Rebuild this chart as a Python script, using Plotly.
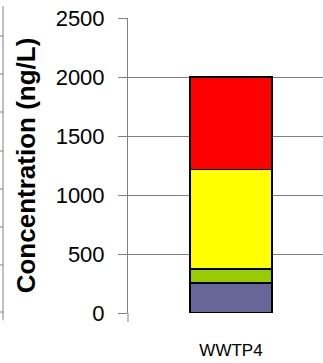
import plotly.graph_objects as go

# Stacked concentrations at one treatment plant
sites = ["WWTP4"]
series_names = ["Group A", "Group B", "Group C", "Group D"]
series_values = [[255], [120], [840], [785]]
series_colors = ["#666699", "#99CC00", "#FFFF00", "#FF0000"]

y_ticks = [0, 500, 1000, 1500, 2000, 2500]

fig = go.Figure()
for name, vals, col in zip(series_names, series_values, series_colors):
    fig.add_trace(go.Bar(
        x=sites, y=vals, name=name, width=1,
        marker=dict(color=col, line=dict(color="black", width=1.5)),
        showlegend=False,
    ))

grey = "#808080"
font = "Liberation Sans, Arial, sans-serif"

fig.update_layout(
    width=323, height=363,
    margin=dict(l=128, r=0, t=18, b=50),
    barmode="stack",
    plot_bgcolor="white", paper_bgcolor="white",
    font=dict(family=font, color="black"),
    xaxis=dict(
        type="category", range=[-1.256, 1.122],
        showgrid=False, ticks="", showline=False, zeroline=False,
        tickfont=dict(size=17), ticklabelstandoff=25,
    ),
    yaxis=dict(
        range=[0, 2500], tickvals=y_ticks,
        ticks="outside", ticklen=9, tickcolor=grey, tickwidth=1,
        showline=True, linecolor=grey, linewidth=1,
        showgrid=True, gridcolor=grey, gridwidth=1, zeroline=False,
        tickfont=dict(size=22), ticklabelstandoff=9,
        title=dict(text="<b>Concentration (ng/L)</b>", font=dict(size=26), standoff=12),
    ),
)

# category tick below the axis at the left boundary
fig.add_shape(type="line", xref="paper", yref="paper",
              x0=0, x1=0, y0=0, y1=-9 / 295, line=dict(color=grey, width=1))

# edge of the neighbouring panel on the left
edge_x = -125 / 195
fig.add_shape(type="line", xref="paper", yref="paper",
              x0=edge_x, x1=edge_x, y0=1.04, y1=-0.025, line=dict(color=grey, width=1))
for yp in [36, 74, 112, 151, 189, 227, 265, 312]:
    yy = (313 - yp) / 295
    fig.add_shape(type="line", xref="paper", yref="paper",
                  x0=edge_x - 3 / 195, x1=edge_x, y0=yy, y1=yy,
                  line=dict(color=grey, width=1))

fig.write_html("out.html")
